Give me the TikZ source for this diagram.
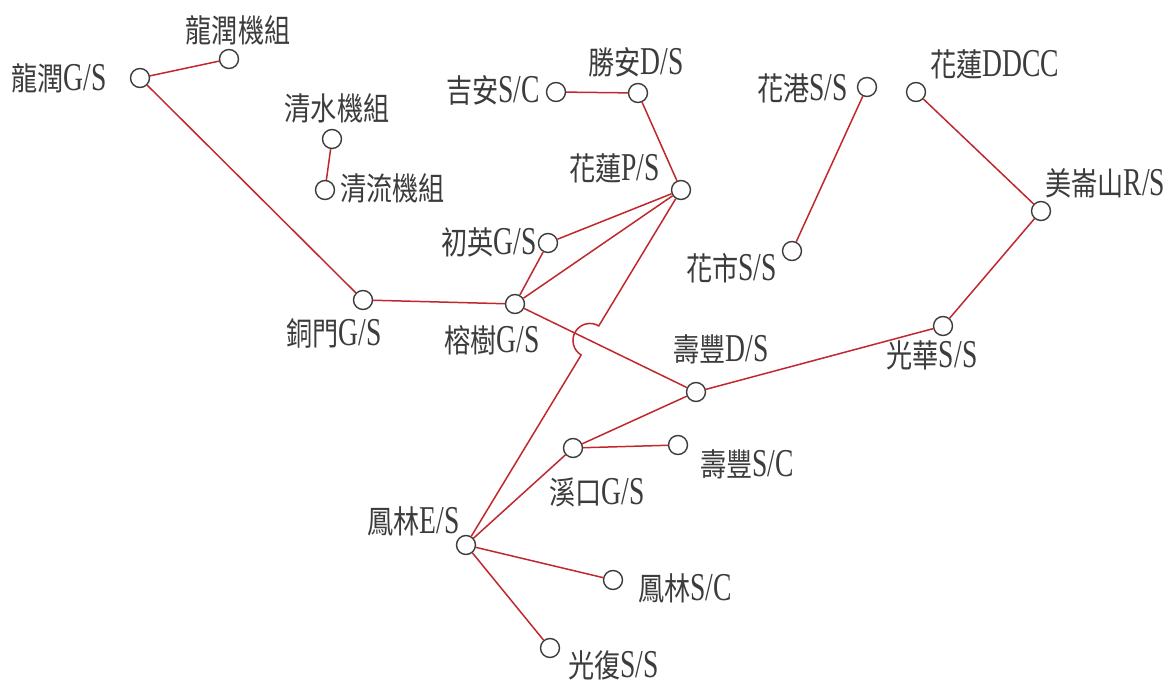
\documentclass[tikz,border=0pt]{standalone}
\usepackage{fontspec}
\setmainfont{Liberation Serif}[Scale=1.36,FakeStretch=0.7]
\newfontfamily\cjk{Noto Sans CJK TC}[Scale=1.1,FakeStretch=0.82]
\usetikzlibrary{calc}
\definecolor{wirered}{HTML}{C0282D}
\definecolor{ink}{HTML}{3C3C3C}
\newcommand\zh[1]{{\cjk #1}}
\tikzset{
  stn/.style={circle, draw=ink, line width=1.4pt, minimum size=19pt, inner sep=0pt, fill=white},
  lbl/.style={text=ink, font=\fontsize{29}{31}\selectfont, inner sep=0pt},
  wire/.style={draw=wirered, line width=1.5pt},
}
\begin{document}
\begin{tikzpicture}[x=1pt,y=-1pt]
\useasboundingbox (0,0) rectangle (1175,684);
\fill[white] (0,0) rectangle (1175,684);
% stations
\node[stn] (lr)  at (140,78) {};
\node[stn] (lrj) at (229,59) {};
\node[stn] (qs)  at (332,139) {};
\node[stn] (ql)  at (325,190) {};
\node[stn] (ja)  at (556,92) {};
\node[stn] (sa)  at (638,93) {};
\node[stn] (hl)  at (681,190) {};
\node[stn] (cy)  at (548,243) {};
\node[stn] (rs)  at (515,304) {};
\node[stn] (tm)  at (363,300) {};
\node[stn] (hg)  at (867,87) {};
\node[stn] (dd)  at (916,92) {};
\node[stn] (ml)  at (1041,211) {};
\node[stn] (hs)  at (792,251) {};
\node[stn] (gh)  at (943,326) {};
\node[stn] (sf)  at (696,392) {};
\node[stn] (xk)  at (573,448) {};
\node[stn] (sfc) at (678,445) {};
\node[stn] (fl)  at (466,545) {};
\node[stn] (flc) at (613,580) {};
\node[stn] (gf)  at (550,648) {};
% labels
\node[lbl,anchor=east] (t-lr)  at (107,78)  {\zh{龍潤}G/S};
\node[lbl]             (t-lrj) at (238,30)  {\zh{龍潤機組}};
\node[lbl]             (t-qs)  at (337,108) {\zh{清水機組}};
\node[lbl,anchor=west] (t-ql)  at (340,188) {\zh{清流機組}};
\node[lbl,anchor=east] (t-ja)  at (540,90)  {\zh{吉安}S/C};
\node[lbl]             (t-sa)  at (636,62)  {\zh{勝安}D/S};
\node[lbl,anchor=east] (t-hl)  at (660,168) {\zh{花蓮}P/S};
\node[lbl,anchor=east] (t-cy)  at (537,242) {\zh{初英}G/S};
\node[lbl]             (t-rs)  at (492,340) {\zh{榕樹}G/S};
\node[lbl]             (t-tm)  at (334,333) {\zh{銅門}G/S};
\node[lbl,anchor=east] (t-hg)  at (848,88)  {\zh{花港}S/S};
\node[lbl,anchor=west] (t-dd)  at (930,64)  {\zh{花蓮}DDCC};
\node[lbl,anchor=west] (t-ml)  at (1045,183) {\zh{美崙山}R/S};
\node[lbl,anchor=east] (t-hs)  at (777,268) {\zh{花市}S/S};
\node[lbl]             (t-gh)  at (932,355) {\zh{光華}S/S};
\node[lbl]             (t-sf)  at (721,349) {\zh{壽豐}D/S};
\node[lbl]             (t-xk)  at (597,492) {\zh{溪口}G/S};
\node[lbl,anchor=west] (t-sfc) at (700,464) {\zh{壽豐}S/C};
\node[lbl,anchor=east] (t-fl)  at (460,521) {\zh{鳳林}E/S};
\node[lbl,anchor=west] (t-flc) at (638,588) {\zh{鳳林}S/C};
\node[lbl,anchor=west] (t-gf)  at (568,665) {\zh{光復}S/S};
% connectors
\draw[wire] (lr) -- (lrj);
\draw[wire] (lr) -- (tm);
\draw[wire] (qs) -- (ql);
\draw[wire] (ja) -- (sa);
\draw[wire] (sa) -- (hl);
\draw[wire] (hl) -- (cy);
\draw[wire] (hl) -- (rs);
\draw[wire] (cy) -- (rs);
\draw[wire] (tm) -- (rs);
\draw[wire] (rs) -- (sf);
\draw[wire] (sf) -- (gh);
\draw[wire] (gh) -- (ml);
\draw[wire] (ml) -- (dd);
\draw[wire] (hg) -- (hs);
\draw[wire] (sf) -- (xk);
\draw[wire] (xk) -- (sfc);
\draw[wire] (xk) -- (fl);
\draw[wire] (fl) -- (flc);
\draw[wire] (fl) -- (gf);
% hop of the line from hl to fl over the line rs--sf
\coordinate (X) at (intersection of hl--fl and rs--sf);
\draw[wire] let \p1=($(hl.center)-(X)$), \n1={atan2(\y1,\x1)} in
  (hl) -- ($(X)!17pt!(hl.center)$) arc[start angle=\n1, end angle=\n1+180, radius=17pt] -- (fl);
\end{tikzpicture}
\end{document}
